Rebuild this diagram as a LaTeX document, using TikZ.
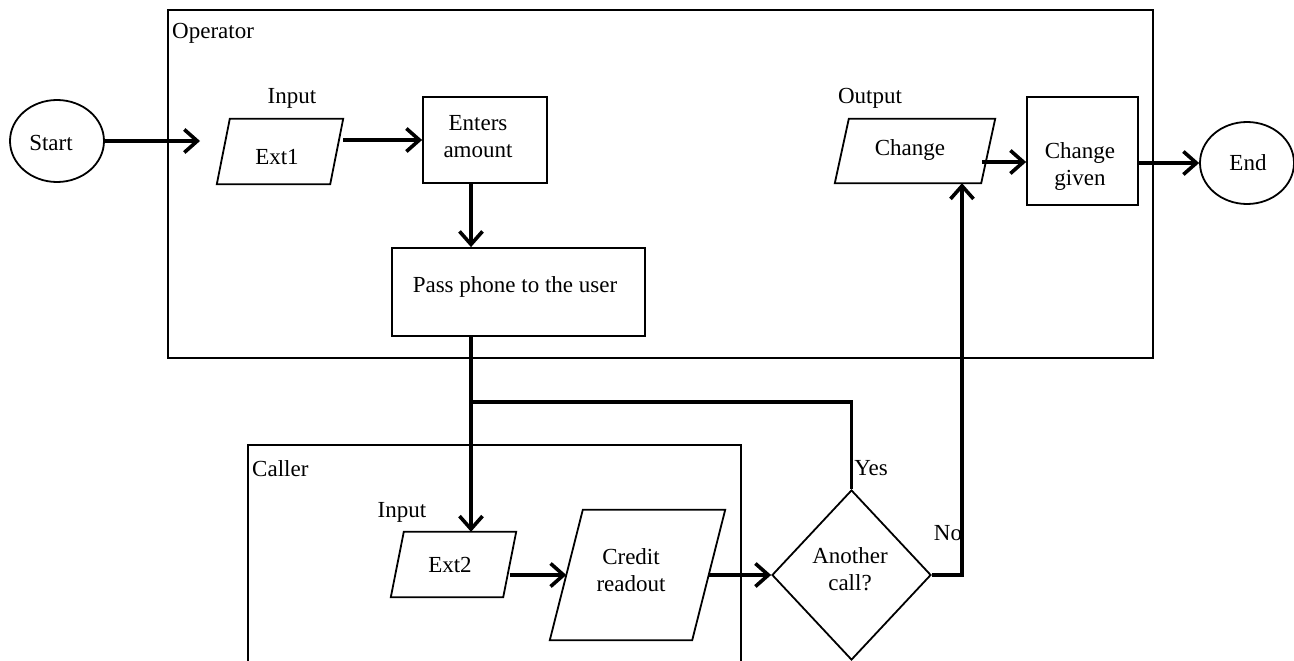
\documentclass[tikz,border=0pt]{standalone}
\usepackage{fontspec}
\setmainfont{Liberation Serif}
\usetikzlibrary{arrows.meta,shapes.geometric}

% outline of a slanted input/output box around a rectangular node
\newcommand\slantbox[2]{%
  \draw[outline] ([xshift=#2]#1.north west) -- ([xshift=#2]#1.north east)
    -- ([xshift=-#2]#1.south east) -- ([xshift=-#2]#1.south west) -- cycle;}

\begin{document}
\begin{tikzpicture}[x=1pt,y=-1pt,
  font=\fontsize{23}{27}\selectfont,
  outline/.style={draw,line width=1.8pt},
  frame/.style={outline},
  box/.style={outline,fill=white,inner sep=0pt},
  proc/.style={box,rectangle},
  term/.style={box,ellipse,minimum width=94pt,minimum height=82pt},
  io/.style={rectangle,inner sep=0pt},
  decision/.style={box,diamond},
  txt/.style={inner sep=0pt,align=center},
  lbl/.style={inner sep=0pt},
  line/.style={line width=3.6pt},
  conn/.style={line,-{Straight Barb[length=13pt,width=23pt]}}
]
\useasboundingbox (0,0) rectangle (1294,661);

% swimlanes
\draw[frame] (168,10) rectangle (1153,358);
\node[lbl,anchor=west] (oplane) at (172,33) {Operator};
\draw[frame] (248,665) |- (741,445) -- (741,665);
\node[lbl,anchor=west] (calllane) at (252,469) {Caller};

% operator steps
\node[term] (start) at (57,141) {};
\node[txt] (start-t) at (51,143) {Start};
\node[io,minimum width=113pt,minimum height=65pt] (ext1) at (280,151.5) {};
\slantbox{ext1}{6.5pt}
\node[txt] (ext1-t) at (277,157) {Ext1};
\node[lbl] (in1) at (292,98) {Input};
\node[proc,minimum width=124pt,minimum height=86pt] (enters) at (485,140) {};
\node[txt] (enters-t) at (478,137) {Enters\\amount};
\node[proc,minimum width=253pt,minimum height=88pt] (pass) at (518.5,292) {};
\node[txt] (pass-t) at (515,287) {Pass phone to the user};
\node[io,minimum width=146pt,minimum height=64pt] (change) at (915,151) {};
\slantbox{change}{7pt}
\node[txt] (change-t) at (910,150) {Change};
\node[lbl] (out1) at (870,98) {Output};
\node[proc,minimum width=111pt,minimum height=108pt] (given) at (1082.5,151) {};
\node[txt] (given-t) at (1080,167) {Change\\given};
\node[term] (end) at (1247,163) {};
\node[txt] (end-t) at (1248,163) {End};

% caller steps
\node[io,minimum width=112pt,minimum height=65pt] (ext2) at (453.5,564.5) {};
\slantbox{ext2}{6.5pt}
\node[txt] (ext2-t) at (450,565) {Ext2};
\node[lbl] (in2) at (402,512) {Input};
\node[io,minimum width=142pt,minimum height=130pt] (credit) at (637.5,575) {};
\slantbox{credit}{16.5pt}
\node[txt] (credit-t) at (631,570) {Credit\\readout};
\node[decision,minimum width=159pt,minimum height=170pt] (decision) at (851.5,575) {};
\node[txt] (decision-t) at (850,569) {Another\\call?};
\node[lbl] (yes) at (871,468) {Yes};
\node[lbl] (no) at (948,533) {No};

% junctions
\coordinate (trunk) at (471,402);
\coordinate (nocorner) at (962,575);
\coordinate (startend) at (200,141);

% connectors
\draw[conn] (start.east) -- (startend);
\draw[conn] ([xshift=6.5pt]ext1.north east |- enters.west) -- (enters.west);
\draw[conn] (enters.south -| trunk) -- (pass.north -| trunk);
\draw[conn] (pass.south -| trunk) -- (trunk |- ext2.north);
\draw[line] (trunk) -| (decision.north);
\draw[conn] (ext2.east |- credit.west) -- (credit.west);
\draw[conn] (credit.east) -- (decision.west);
\draw[conn] (decision.east) -- (nocorner) -- (nocorner |- change.south);
\draw[conn] ([xshift=-6pt,yshift=-11pt]change.east) -- ([yshift=-11pt]given.west);
\draw[conn] (given.east |- end.west) -- (end.west);
\end{tikzpicture}
\end{document}
